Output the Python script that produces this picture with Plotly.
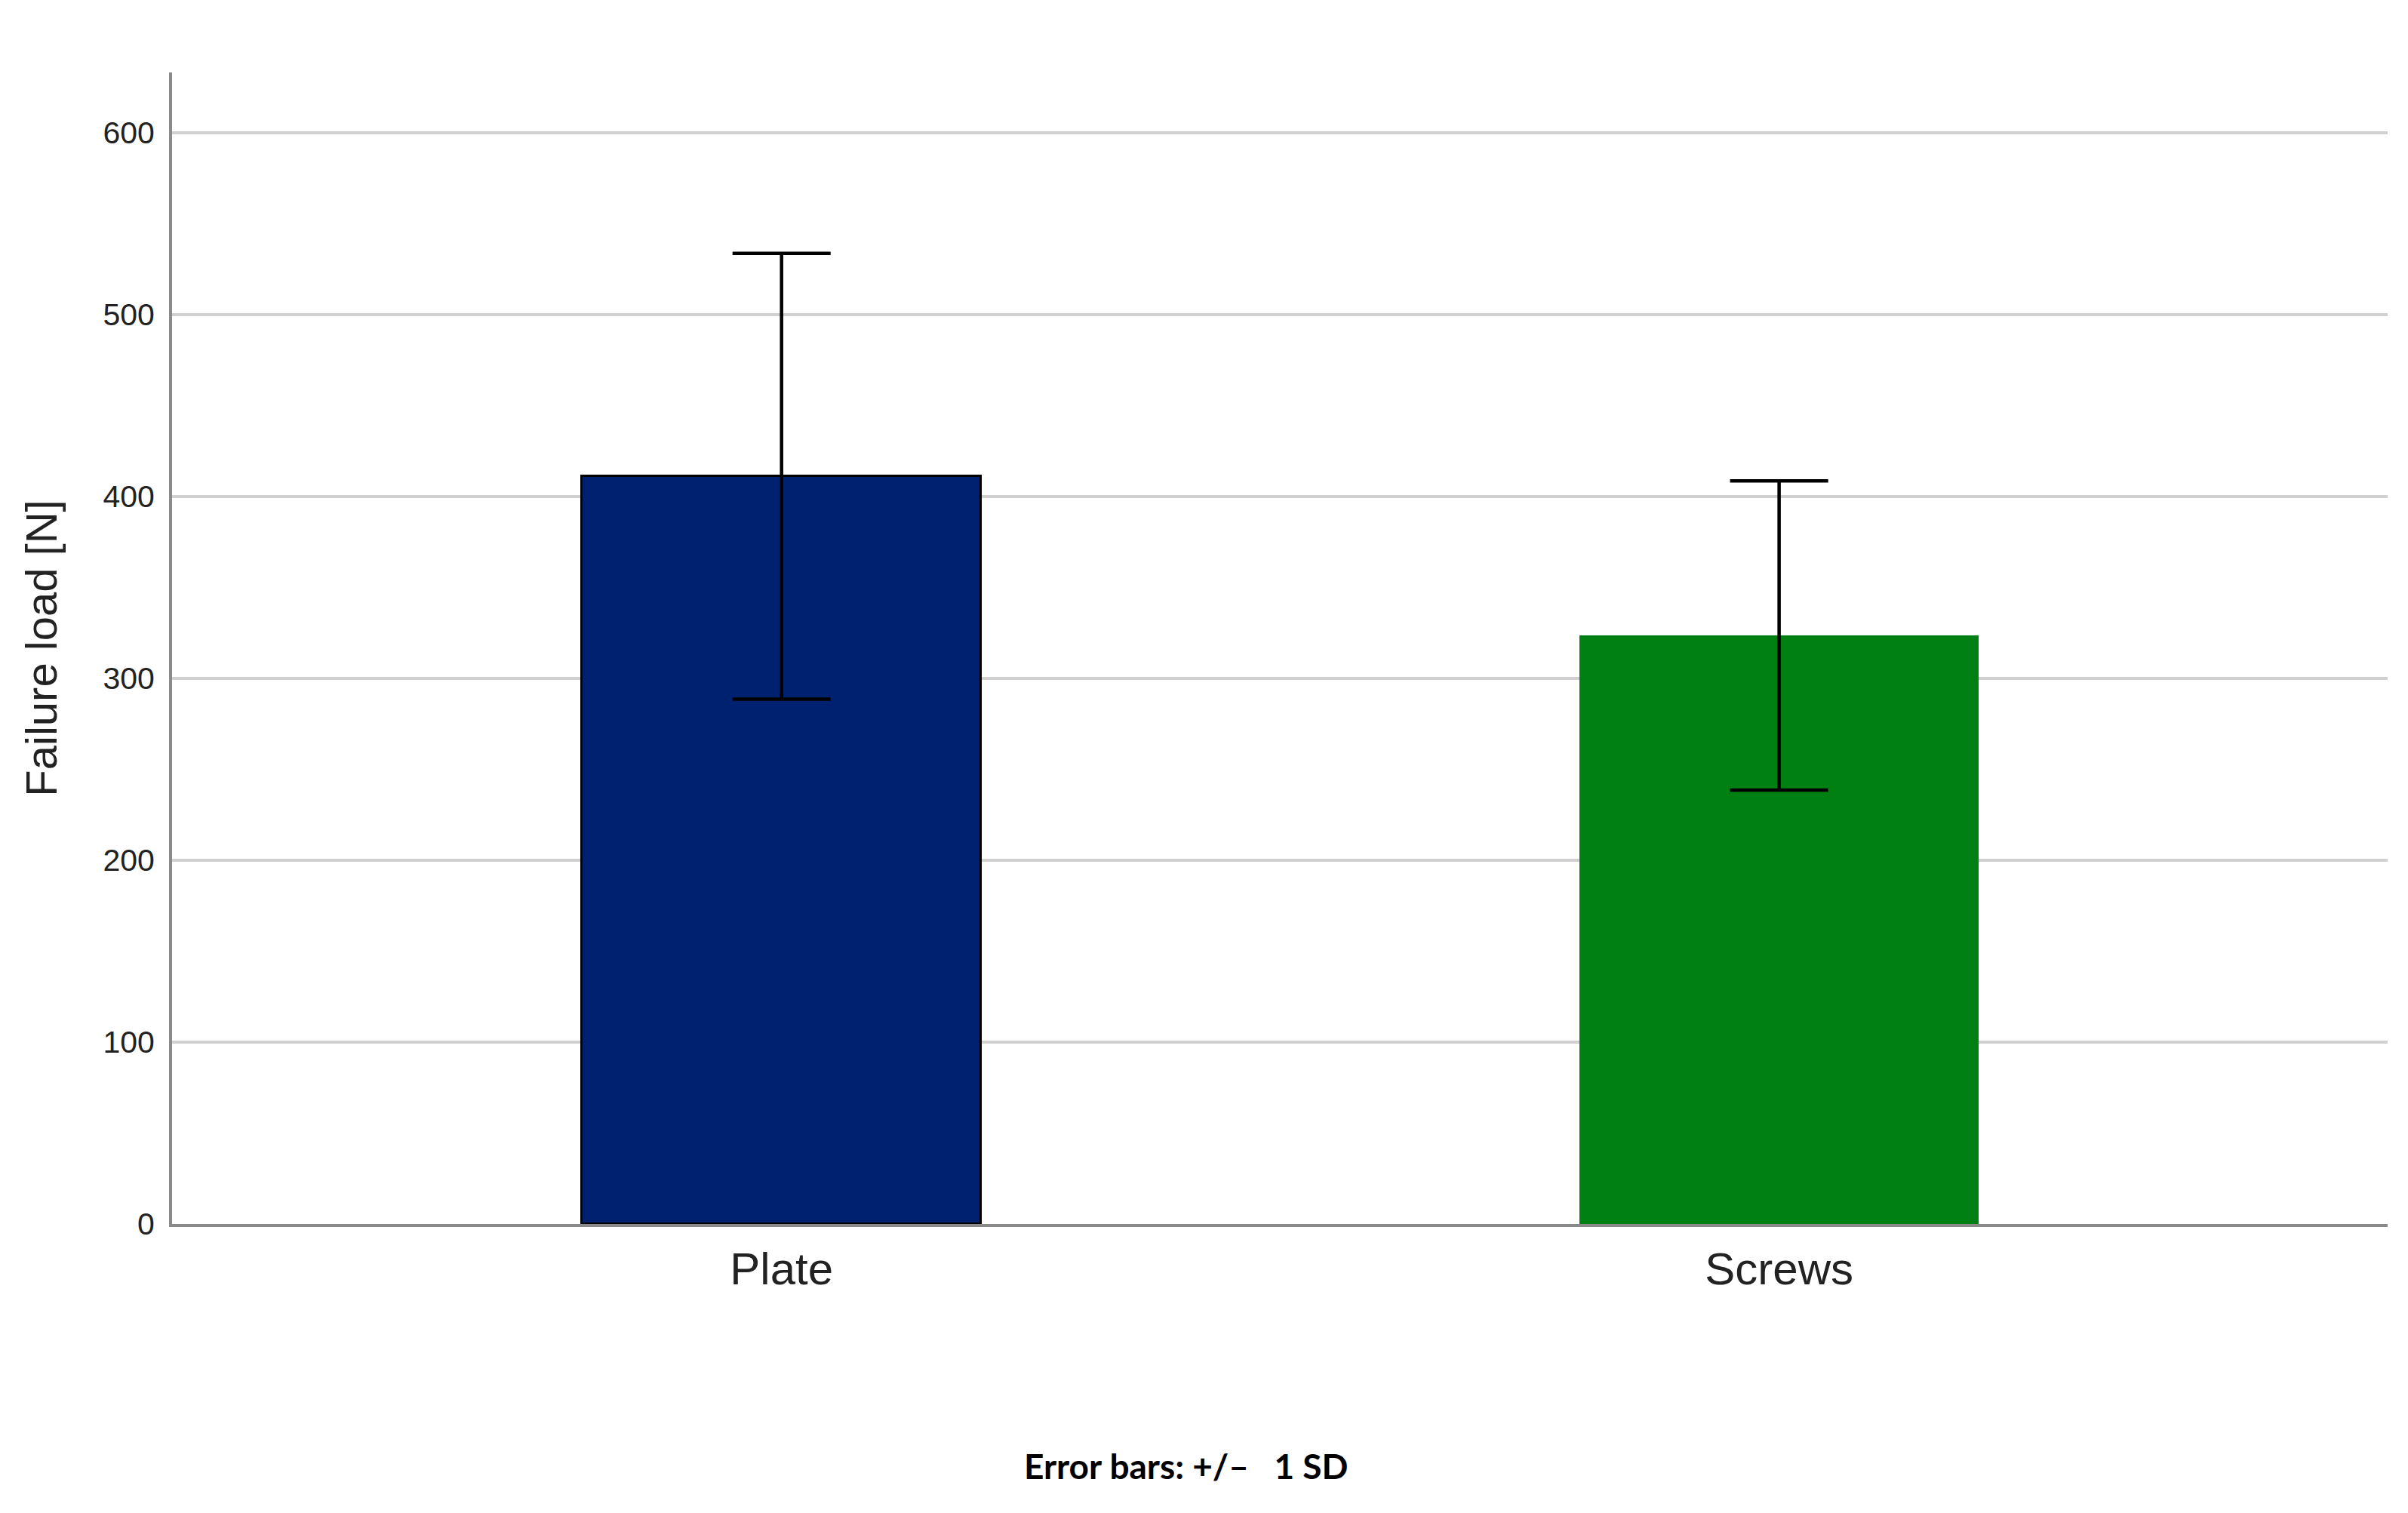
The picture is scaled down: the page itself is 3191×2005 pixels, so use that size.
import plotly.graph_objects as go

categories = ["Plate", "Screws"]
means = [411, 323.5]
sds = [122.5, 85]
bar_colors = ["#002070", "#008013"]
outline_widths = [3, 0]
y_ticks = [0, 100, 200, 300, 400, 500, 600]

fig = go.Figure()
fig.add_trace(go.Bar(
    x=categories,
    y=means,
    width=0.4,
    marker=dict(color=bar_colors, line=dict(color="#000000", width=outline_widths)),
    error_y=dict(type="data", array=sds, visible=True, color="#000000",
                 thickness=4.5, width=65),
    showlegend=False,
))

W, H = 3191, 2005
fig.update_layout(
    width=W, height=H,
    margin=dict(l=220, r=35, t=88, b=391),
    paper_bgcolor="white",
    plot_bgcolor="white",
    font=dict(family="Liberation Sans, Arial, sans-serif", color="#222222"),
    bargap=0,
)
fig.update_xaxes(
    range=[-0.611, 1.61],
    showline=True, linecolor="#8a8a8a", linewidth=4,
    showgrid=False, ticks="",
    tickfont=dict(size=60, color="#222222"),
    ticklabelstandoff=4,
)
fig.update_yaxes(
    range=[0, 633],
    tickvals=y_ticks,
    showline=True, linecolor="#8a8a8a", linewidth=4,
    showgrid=True, gridcolor="#d0d0d0", gridwidth=4,
    zeroline=False, ticks="",
    tickfont=dict(size=41, color="#222222"),
    ticklabelstandoff=11,
    title=dict(text="Failure load [N]", font=dict(size=58, color="#222222"), standoff=43),
)
fig.add_annotation(
    text="<b>Error bars: +/–   1 SD</b>",
    xref="paper", yref="paper",
    x=(1572 - 228) / 2936, y=(1622 - 1942) / 1526,
    xanchor="center", yanchor="middle",
    showarrow=False,
    font=dict(family="Lato, Open Sans, sans-serif", size=46, color="#000000"),
)
fig.write_html("out.html")
